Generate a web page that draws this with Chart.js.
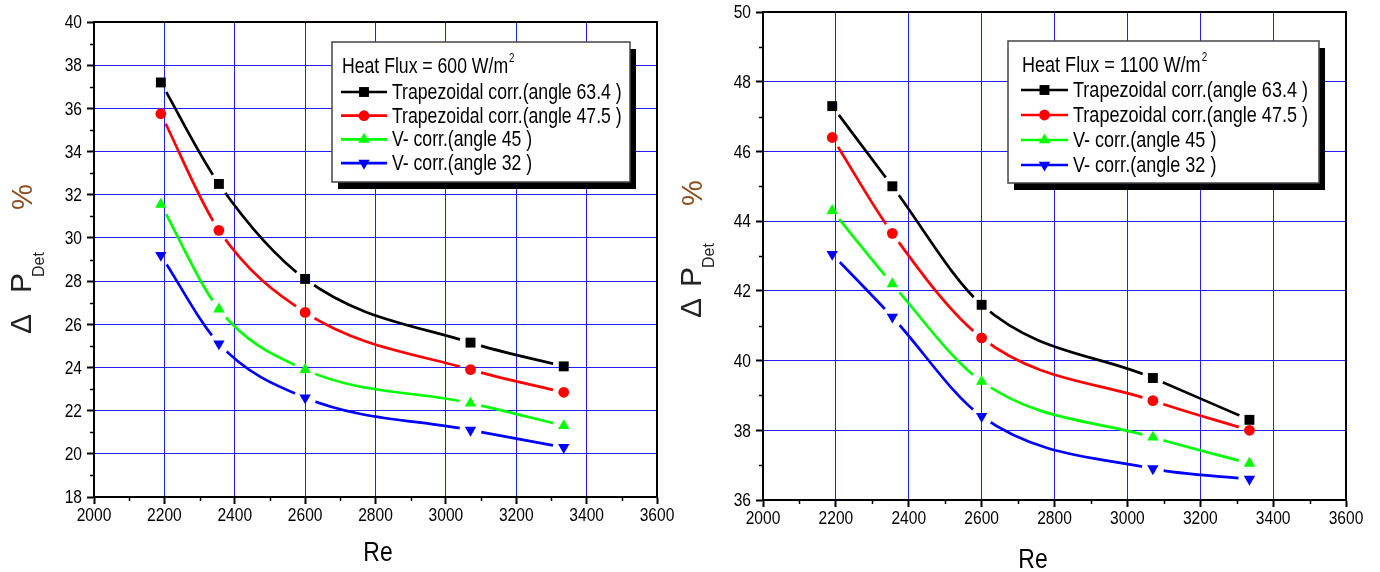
<!DOCTYPE html>
<html>
<head>
<meta charset="utf-8">
<script src="https://cdn.jsdelivr.net/npm/chart.js@4"></script>
<style>
  html, body { margin: 0; padding: 0; background: #fff; overflow: hidden; }
  .box { position: absolute; top: 0; height: 572px; }
  #left { left: 0; width: 690px; }
  #right { left: 660px; width: 720px; }
</style>
</head>
<body>
<div class="box" id="left"><canvas id="c1"></canvas></div>
<div class="box" id="right"><canvas id="c2"></canvas></div>
<script>
  // Reynolds-Zahlen (x)
  const re = [2190, 2355, 2600, 3070, 3335];

  // Heat flux 600 W/m2
  const q600Trap634 = [37.2, 32.5, 28.1, 25.15, 24.05];
  const q600Trap475 = [35.75, 30.35, 26.55, 23.9, 22.85];
  const q600V45 = [31.55, 26.7, 23.9, 22.35, 21.3];
  const q600V32 = [29.2, 25.1, 22.6, 21.1, 20.3];

  // Heat flux 1100 W/m2
  const q1100Trap634 = [47.3, 45.0, 41.6, 39.5, 38.3];
  const q1100Trap475 = [46.4, 43.65, 40.65, 38.85, 38.0];
  const q1100V45 = [44.3, 42.2, 39.4, 37.8, 37.05];
  const q1100V32 = [43.05, 41.25, 38.4, 36.9, 36.6];

  const seriesNames = [
    'Trapezoidal corr.(angle 63.4 )',
    'Trapezoidal corr.(angle 47.5 )',
    'V- corr.(angle 45 )',
    'V- corr.(angle 32 )'
  ];
  const seriesColors = ['#000000', '#ff0000', '#00ff00', '#0000ff'];
  const seriesMarkers = ['rect', 'circle', 'triangle', 'triangle'];
  const markerRotation = [0, 0, 0, 180];
  const markerRadius = [7, 5.4, 6.6, 6.6];

  const SANS = '"Liberation Sans", Arial, sans-serif';
  const SQUEEZE = 0.82; // schmale Schrift nachbilden

  function makeDatasets(values) {
    return values.map((vals, i) => ({
      label: seriesNames[i],
      data: re.map((x, k) => ({ x: x, y: vals[k] })),
      borderColor: seriesColors[i],
      backgroundColor: seriesColors[i],
      borderWidth: 2.7,
      pointStyle: seriesMarkers[i],
      pointRotation: markerRotation[i],
      pointRadius: markerRadius[i],
      pointBorderWidth: 0,
      cubicInterpolationMode: 'monotone',
      fill: false
    }));
  }

  // schmaler Text
  function narrowText(ctx, txt, x, y, size, align) {
    ctx.save();
    ctx.font = size + 'px ' + SANS;
    const w = ctx.measureText(txt).width * SQUEEZE;
    let x0 = x;
    if (align === 'center') x0 = x - w / 2;
    if (align === 'right') x0 = x - w;
    ctx.translate(x0, y);
    ctx.scale(SQUEEZE, 1);
    ctx.textAlign = 'left';
    ctx.fillText(txt, 0, 0);
    ctx.restore();
    return w;
  }

  // Marker zeichnen (Legende)
  function marker(ctx, style, rot, r, x, y, color) {
    ctx.save();
    ctx.fillStyle = color;
    ctx.translate(x, y);
    ctx.rotate(rot * Math.PI / 180);
    ctx.beginPath();
    if (style === 'rect') {
      const s = Math.SQRT1_2 * r;
      ctx.rect(-s, -s, 2 * s, 2 * s);
    } else if (style === 'circle') {
      ctx.arc(0, 0, r, 0, Math.PI * 2);
    } else {
      for (let k = 0; k < 3; k++) {
        const a = k * 2 * Math.PI / 3;
        ctx.lineTo(Math.sin(a) * r, -Math.cos(a) * r);
      }
      ctx.closePath();
    }
    ctx.fill();
    ctx.restore();
  }

  // Lücken in den Linien rund um die Punkte
  const gapPlugin = {
    id: 'gaps',
    beforeDatasetDraw(chart, args) {
      const ctx = chart.ctx;
      ctx.save();
      ctx.beginPath();
      ctx.rect(0, 0, chart.width, chart.height);
      args.meta.data.forEach(p => {
        ctx.moveTo(p.x + 11, p.y);
        ctx.arc(p.x, p.y, 11, 0, Math.PI * 2);
      });
      ctx.clip('evenodd');
    },
    afterDatasetDraw(chart, args) {
      chart.ctx.restore();
      args.meta.data.forEach(p => p.draw(chart.ctx, chart.chartArea));
    }
  };

  // Rahmen, Nebenstriche, Beschriftung, Achsentitel, Legende
  const decorPlugin = {
    id: 'decor',
    afterDraw(chart, args, o) {
      const ctx = chart.ctx;
      const a = chart.chartArea;
      const xs = chart.scales.x, ys = chart.scales.y;
      ctx.save();
      ctx.strokeStyle = '#000';
      ctx.lineWidth = 2;
      ctx.beginPath();
      ctx.moveTo(a.left, a.top);
      ctx.lineTo(a.right, a.top);
      ctx.lineTo(a.right, a.bottom);
      ctx.stroke();

      // minor ticks
      ctx.lineWidth = 1.5;
      ctx.beginPath();
      for (let v = xs.min + 100; v < xs.max; v += 200) {
        const px = Math.round(xs.getPixelForValue(v)) + 0.5;
        ctx.moveTo(px, a.bottom);
        ctx.lineTo(px, a.bottom + 4);
      }
      for (let v = ys.min + 1; v < ys.max; v += 2) {
        const py = Math.round(ys.getPixelForValue(v)) + 0.5;
        ctx.moveTo(a.left, py);
        ctx.lineTo(a.left - 4, py);
      }
      ctx.stroke();

      // tick labels from the scales
      ctx.fillStyle = '#000';
      ctx.textBaseline = 'top';
      xs.ticks.forEach(t => {
        narrowText(ctx, String(t.value), xs.getPixelForValue(t.value), a.bottom + 9, 19, 'center');
      });
      ctx.textBaseline = 'middle';
      ys.ticks.forEach(t => {
        narrowText(ctx, String(t.value), a.left - 12, ys.getPixelForValue(t.value) + 1, 19, 'right');
      });

      // x title
      narrowText(ctx, 'Re', o.reX, o.reY, 28, 'center');

      // y title (rotated)
      const t = o.yTitle;
      ctx.save();
      ctx.translate(t.x, t.y);
      ctx.rotate(-Math.PI / 2);
      ctx.textAlign = 'left';
      ctx.textBaseline = 'alphabetic';
      ctx.fillStyle = '#222';
      ctx.font = '30px ' + SANS;
      ctx.fillText('\u0394', 0, 0);
      ctx.fillText('P', t.p, 0);
      ctx.font = '16px ' + SANS;
      ctx.fillText('Det', t.d, 13);
      ctx.fillStyle = '#8f4f1f';
      ctx.font = '29px ' + SANS;
      ctx.fillText('%', t.pc, 1);
      ctx.restore();

      // legend
      const L = o.legend;
      ctx.fillStyle = '#000';
      ctx.fillRect(L.x + 6, L.y + 7, L.w, L.h);
      ctx.fillStyle = '#fff';
      ctx.fillRect(L.x, L.y, L.w, L.h);
      ctx.strokeStyle = '#444';
      ctx.lineWidth = 1.5;
      ctx.strokeRect(L.x, L.y, L.w, L.h);

      ctx.fillStyle = '#000';
      ctx.textBaseline = 'alphabetic';
      const tw = narrowText(ctx, L.title, L.tx, L.ty, L.size, 'left');
      narrowText(ctx, '2', L.tx + tw + 1, L.ty - L.size * 0.5, Math.round(L.size * 0.55), 'left');

      ctx.textBaseline = 'middle';
      chart.data.datasets.forEach((ds, i) => {
        const y = L.row0 + i * L.gap;
        ctx.strokeStyle = ds.borderColor;
        ctx.lineWidth = 2.7;
        ctx.beginPath();
        ctx.moveTo(L.l0, y);
        ctx.lineTo(L.l1, y);
        ctx.stroke();
        marker(ctx, ds.pointStyle, ds.pointRotation, ds.pointRadius, (L.l0 + L.l1) / 2, y, ds.borderColor);
        ctx.fillStyle = '#000';
        narrowText(ctx, ds.label, L.txt, y + 1, L.size, 'left');
      });
      ctx.restore();
    }
  };

  function makeChart(id, values, cfg) {
    return new Chart(document.getElementById(id), {
      type: 'line',
      data: { datasets: makeDatasets(values) },
      plugins: [gapPlugin, decorPlugin],
      options: {
        responsive: true,
        maintainAspectRatio: false,
        animation: false,
        events: [],
        layout: { padding: cfg.padding },
        plugins: {
          legend: { display: false },
          tooltip: { enabled: false },
          decor: cfg.decor
        },
        scales: {
          x: {
            type: 'linear',
            min: 2000,
            max: 3600,
            ticks: { stepSize: 200, color: 'rgba(0,0,0,0)', padding: 3, font: { family: SANS, size: 16, lineHeight: 1 } },
            grid: { color: '#1f1fff', lineWidth: 1, tickColor: '#000', tickLength: 7, tickWidth: 2 },
            border: { color: '#000', width: 2 },
            afterFit: s => { s.height = cfg.xHeight; }
          },
          y: {
            min: cfg.yMin,
            max: cfg.yMax,
            ticks: { stepSize: 2, color: 'rgba(0,0,0,0)', padding: 4, font: { family: SANS, size: 16, lineHeight: 1 } },
            grid: { color: '#1f1fff', lineWidth: 1, tickColor: '#000', tickLength: 7, tickWidth: 2 },
            border: { color: '#000', width: 2 },
            afterFit: s => { s.width = cfg.yWidth; }
          }
        }
      }
    });
  }

  makeChart('c1', [q600Trap634, q600Trap475, q600V45, q600V32], {
    padding: { left: 0, right: 33, top: 22, bottom: 0 },
    xHeight: 75, yWidth: 94, yMin: 18, yMax: 40,
    decor: {
      reX: 378, reY: 553,
      yTitle: { x: 31, y: 334, p: 41, d: 57, pc: 124 },
      legend: { x: 332, y: 42, w: 298, h: 140, title: 'Heat Flux = 600 W/m', size: 21.5,
        tx: 342, ty: 73, row0: 92, gap: 23.7, l0: 341, l1: 387, txt: 392 }
    }
  });

  makeChart('c2', [q1100Trap634, q1100Trap475, q1100V45, q1100V32], {
    padding: { left: 0, right: 34, top: 11, bottom: 0 },
    xHeight: 72, yWidth: 103, yMin: 36, yMax: 50,
    decor: {
      reX: 373, reY: 560,
      yTitle: { x: 41, y: 318, p: 31, d: 50, pc: 112 },
      legend: { x: 348, y: 41, w: 311, h: 142, title: 'Heat Flux = 1100 W/m', size: 22,
        tx: 362, ty: 72, row0: 90, gap: 25, l0: 361, l1: 408, txt: 413 }
    }
  });
</script>
</body>
</html>
